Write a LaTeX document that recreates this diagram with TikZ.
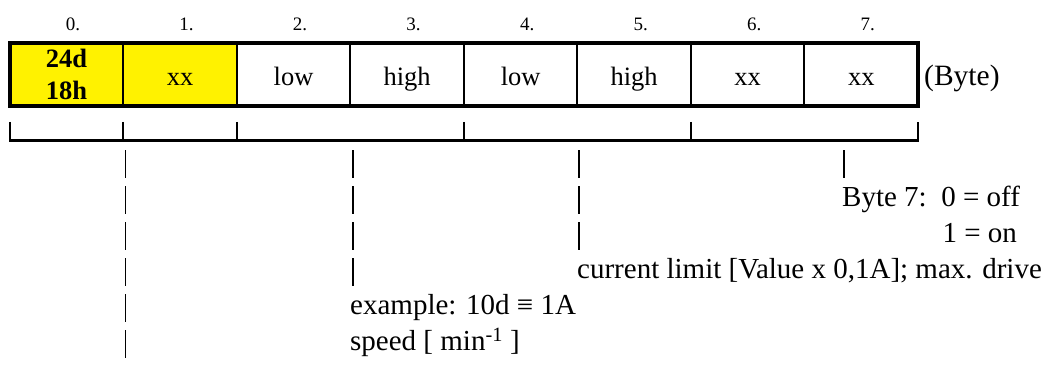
\documentclass[tikz,border=0pt]{standalone}
\usepackage{fontspec}
\setmainfont{Liberation Serif}
\usepackage{tikz}
\usetikzlibrary{positioning}
\tikzset{
    byte-cell/.style = {draw, line width=2pt, rectangle, minimum width=113.54pt, minimum height=63.4pt, inner sep=0pt, outer sep=0pt, font=\fontsize{26.5}{31.7}\selectfont},
    byte-text/.style = {text height=21pt, text depth=0pt},
    byte-num/.style = {anchor=base, inner sep=0pt, font=\fontsize{19}{22}\selectfont},
    group-bracket/.style = {line width=2.2pt},
    note-pipe/.style = {line width=1.2pt, dash pattern=on 27.5pt off 8.5pt},
    note-text/.style = {anchor=base west, inner sep=0pt, text height=21.75pt, text depth=0pt, font=\fontsize{29}{36}\selectfont},
}
\begin{document}
\begin{tikzpicture}[x=1pt, y=-1pt]
\path[fill=white, use as bounding box] (0,0) rectangle (1049,367);
\node[byte-cell, fill=yellow, align=center, font=\fontsize{26.5}{31.7}\selectfont\bfseries] (c0) at (66.47,74.5) {24d\\18h};
\node[byte-cell, byte-text, fill=yellow, right=0pt of c0] (c1) {xx};
\node[byte-cell, byte-text, right=0pt of c1] (c2) {low};
\node[byte-cell, byte-text, right=0pt of c2] (c3) {high};
\node[byte-cell, byte-text, right=0pt of c3] (c4) {low};
\node[byte-cell, byte-text, right=0pt of c4] (c5) {high};
\node[byte-cell, byte-text, right=0pt of c5] (c6) {xx};
\node[byte-cell, byte-text, right=0pt of c6] (c7) {xx};
\draw[line width=4.3pt] (c0.north west) rectangle (c7.south east);
\node[byte-text, inner sep=0pt, font=\fontsize{29.5}{34}\selectfont, right=6pt of c7] (unit) {(Byte)};
\foreach \i in {0,...,7}
    \node[byte-num] (n\i) at ([xshift=6.5pt, yshift=12.1pt]c\i.north) {\i.};
\draw[group-bracket] ([yshift=-15.7pt]c0.south west) |- ([yshift=-34.3pt]c7.south east) -- ([yshift=-15.7pt]c7.south east);
\foreach \i in {1,2,4,6}
    \draw[group-bracket] ([yshift=-15.7pt]c\i.south west) -- ([yshift=-34.3pt]c\i.south west);
\coordinate (p1) at (125.3,150);
\coordinate (p2) at (353,150);
\coordinate (p3) at (579,150);
\coordinate (p4) at (844,150);
\coordinate (bottom) at (125.3,362);
\node[note-text] (b7) at (842,206.7) {Byte 7:~~0 = off};
\node[note-text, anchor=base east] (b7on) at ([xshift=-3pt, yshift=-36pt]b7.base east) {1 = on};
\node[note-text] (cur) at (577,278.7) {current limit [Value x 0,1A]; max. drive};
\node[note-text] (ex) at (350,314.7) {example: 10d ≡ 1A};
\node[note-text] (spd) at (350,350.7) {speed [ min\textsuperscript{-1} ]};
\draw[note-pipe] (p1) -- (bottom);
\draw[note-pipe] (p2) -- (p2 |- ex.north);
\draw[note-pipe] (p3) -- (p3 |- cur.north);
\draw[note-pipe] (p4) -- (p4 |- b7.north);
\end{tikzpicture}
\end{document}
